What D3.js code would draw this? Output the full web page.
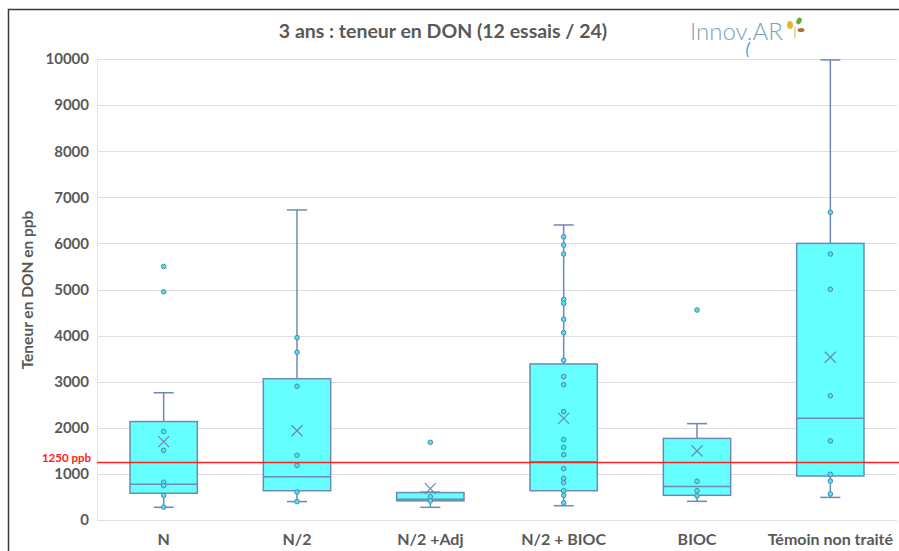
<!DOCTYPE html>
<html>
<head>
<meta charset="utf-8">
<script src="https://cdn.jsdelivr.net/npm/d3@7"></script>
<style>
  body { margin: 0; background: #fff; }
  svg { display: block; font-family: Lato, 'Open Sans', sans-serif; }
</style>
</head>
<body>
<div class="chart"></div>
<script>
'use strict'
// categories and stats (ppb)
var categories = ['N', 'N/2', 'N/2 +Adj', 'N/2 + BIOC', 'BIOC', 'Témoin non traité']
var mins = [275, 400, 275, 310, 405, 490]
var q1s = [580, 635, 415, 635, 535, 955]
var medians = [775, 940, 450, 1265, 725, 2205]
var q3s = [2135, 3065, 595, 3385, 1770, 6000]
var maxs = [2760, 6725, 605, 6400, 2090, 9980]
var means = [1700, 1935, 680, 2205, 1495, 3530]
var points = [
  [5500, 4950, 1920, 1510, 820, 745, 535, 280],
  [3955, 3640, 2900, 1405, 1185, 605, 400],
  [1685, 505, 415],
  [6145, 5965, 5770, 4785, 4700, 4355, 4065, 3465, 3110, 2935, 2350, 1745, 1575, 1415, 1115, 905, 810, 635, 535, 370],
  [4555, 840, 635, 525],
  [6675, 5770, 5005, 2695, 1715, 990, 845, 565]
]
var yTicks = [0, 1000, 2000, 3000, 4000, 5000, 6000, 7000, 8000, 9000, 10000]
var threshold = 1250
var thresholdLabel = '1250 ppb'
var title = '3 ans : teneur en DON (12 essais / 24)'
var yTitle = 'Teneur en DON en ppb'

var width = 899
var height = 551
var plotLeft = 97
var plotRight = 897
var plotTop = 59
var plotBottom = 520

var svg = d3.select('.chart').append('svg')
  .attr('width', width)
  .attr('height', height)

// frame
svg.append('path')
  .attr('d', 'M8.5,' + height + 'V9.5H' + width)
  .attr('fill', 'none')
  .attr('stroke', '#3a3a3a')
  .attr('stroke-width', 1.5)

var x = d3.scaleBand().domain(categories).range([plotLeft, plotRight])
var y = d3.scaleLinear().domain([0, 10000]).range([plotBottom, plotTop])

// grid
svg.append('g').selectAll('line')
  .data(yTicks)
  .enter().append('line')
  .attr('x1', plotLeft).attr('x2', plotRight)
  .attr('y1', function (d) { return Math.round(y(d)) + 0.5 })
  .attr('y2', function (d) { return Math.round(y(d)) + 0.5 })
  .attr('stroke', '#dedede')
  .attr('stroke-width', 1.2)

svg.append('line')
  .attr('x1', plotLeft + 0.5).attr('x2', plotLeft + 0.5)
  .attr('y1', plotTop).attr('y2', plotBottom)
  .attr('stroke', '#e4e4e4')

// y axis labels
var yAxis = svg.append('g')
  .attr('transform', 'translate(' + (plotLeft - 8) + ',0)')
  .call(d3.axisLeft(y).tickValues(yTicks).tickSize(0).tickPadding(0).tickFormat(d3.format('d')))
yAxis.select('.domain').remove()
yAxis.selectAll('text')
  .attr('fill', '#595959')
  .style('font-family', 'Lato, sans-serif')
  .style('font-size', '15px')
  .style('font-weight', 'bold')

// x axis labels
var xAxis = svg.append('g')
  .attr('transform', 'translate(0,' + (plotBottom + 14) + ')')
  .call(d3.axisBottom(x).tickSize(0).tickPadding(0))
xAxis.select('.domain').remove()
xAxis.selectAll('text')
  .attr('fill', '#595959')
  .style('font-family', 'Lato, sans-serif')
  .style('font-size', '16px')
  .style('font-weight', 'bold')

// titles
svg.append('text')
  .attr('x', 443).attr('y', 38)
  .attr('text-anchor', 'middle')
  .attr('fill', '#595959')
  .style('font-size', '19.5px')
  .style('font-weight', 'bold')
  .text(title)

svg.append('text')
  .attr('transform', 'translate(33,' + 290 + ')rotate(-90)')
  .attr('text-anchor', 'middle')
  .attr('fill', '#595959')
  .style('font-size', '15.5px')
  .style('font-weight', 'bold')
  .text(yTitle)

// logo
var logo = svg.append('g')
logo.append('text')
  .attr('x', 690).attr('y', 40)
  .attr('fill', '#7aa3bb')
  .style('font-size', '24px')
  .style('font-weight', 300)
  .text('Innov.AR')
logo.append('path')
  .attr('d', 'M750,42 Q745,50 748,57')
  .attr('fill', 'none').attr('stroke', '#5fa9d0').attr('stroke-width', 1.5)
logo.append('line')
  .attr('x1', 795).attr('y1', 38).attr('x2', 795).attr('y2', 27)
  .attr('stroke', '#cfe39a').attr('stroke-width', 2)
logo.append('ellipse')
  .attr('cx', 790).attr('cy', 25).attr('rx', 3).attr('ry', 4)
  .attr('fill', '#e2b43a')
logo.append('ellipse')
  .attr('cx', 799).attr('cy', 21).attr('rx', 2.5).attr('ry', 3.5)
  .attr('transform', 'rotate(30,799,21)')
  .attr('fill', '#6aa842')
logo.append('ellipse')
  .attr('cx', 801).attr('cy', 30).attr('rx', 3.5).attr('ry', 2)
  .attr('fill', '#a8763a')

// boxes
var stroke = '#6c8ab4'
var bw = x.bandwidth() * 0.505
var cap = 10
var rows = categories.map(function (c, i) {
  return { cat: c, min: mins[i], q1: q1s[i], med: medians[i], q3: q3s[i], max: maxs[i], mean: means[i], pts: points[i] }
})

var g = svg.append('g').selectAll('g')
  .data(rows)
  .enter().append('g')
  .attr('transform', function (d) { return 'translate(' + (x(d.cat) + x.bandwidth() / 2) + ',0)' })

g.append('line')
  .attr('y1', function (d) { return y(d.max) })
  .attr('y2', function (d) { return y(d.min) })
  .attr('stroke', stroke).attr('stroke-width', 1.5)
g.append('line')
  .attr('x1', -cap).attr('x2', cap)
  .attr('y1', function (d) { return y(d.max) })
  .attr('y2', function (d) { return y(d.max) })
  .attr('stroke', stroke).attr('stroke-width', 1.5)
g.append('line')
  .attr('x1', -cap).attr('x2', cap)
  .attr('y1', function (d) { return y(d.min) })
  .attr('y2', function (d) { return y(d.min) })
  .attr('stroke', stroke).attr('stroke-width', 1.5)
g.append('rect')
  .attr('x', -bw / 2).attr('width', bw)
  .attr('y', function (d) { return y(d.q3) })
  .attr('height', function (d) { return y(d.q1) - y(d.q3) })
  .attr('fill', '#66ffff')
  .attr('stroke', stroke).attr('stroke-width', 1.5)
g.append('line')
  .attr('x1', -bw / 2).attr('x2', bw / 2)
  .attr('y1', function (d) { return y(d.med) })
  .attr('y2', function (d) { return y(d.med) })
  .attr('stroke', stroke).attr('stroke-width', 1.5)

g.selectAll('circle')
  .data(function (d) { return d.pts })
  .enter().append('circle')
  .attr('cy', function (d) { return y(d) })
  .attr('r', 2.3)
  .attr('fill', '#4fe3f2')
  .attr('stroke', '#4c86ad')
  .attr('stroke-width', 1)

g.append('path')
  .attr('d', function (d) {
    var m = y(d.mean)
    return 'M-5.5,' + (m - 5.5) + 'L5.5,' + (m + 5.5) + 'M5.5,' + (m - 5.5) + 'L-5.5,' + (m + 5.5)
  })
  .attr('stroke', stroke).attr('stroke-width', 1.3)

// threshold
svg.append('line')
  .attr('x1', plotLeft).attr('x2', width)
  .attr('y1', y(threshold)).attr('y2', y(threshold))
  .attr('stroke', '#ff2020').attr('stroke-width', 1.5)
svg.append('text')
  .attr('x', plotLeft - 6).attr('y', y(threshold) - 0.5)
  .attr('text-anchor', 'end')
  .attr('fill', '#ff1a1a')
  .style('font-size', '11.5px')
  .style('font-weight', 'bold')
  .text(thresholdLabel)
</script>
</body>
</html>
